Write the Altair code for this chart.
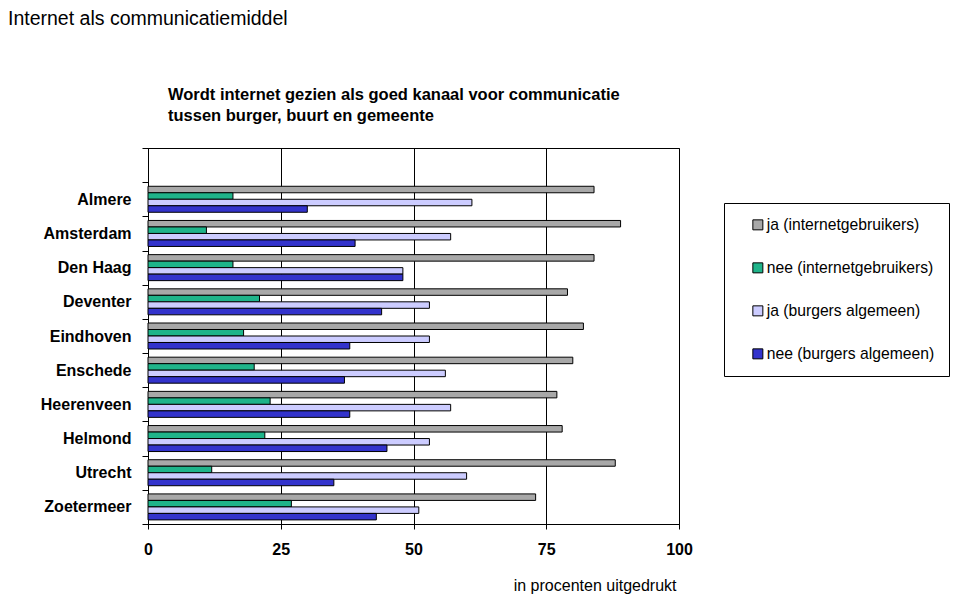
import altair as alt
import pandas as pd

cities = ["Almere", "Amsterdam", "Den Haag", "Deventer", "Eindhoven",
          "Enschede", "Heerenveen", "Helmond", "Utrecht", "Zoetermeer"]
series = ["ja (internetgebruikers)", "nee (internetgebruikers)",
          "ja (burgers algemeen)", "nee (burgers algemeen)"]
ja_internet = [84, 89, 84, 79, 82, 80, 77, 78, 88, 73]
nee_internet = [16, 11, 16, 21, 18, 20, 23, 22, 12, 27]
ja_burgers = [61, 57, 48, 53, 53, 56, 57, 53, 60, 51]
nee_burgers = [30, 39, 48, 44, 38, 37, 38, 45, 35, 43]
colors = ["#A8A8A8", "#1FB48A", "#CCCCFF", "#3333CC"]
x_ticks = [0, 25, 50, 75, 100]

main_title = "Internet als communicatiemiddel"
subtitle = ["Wordt internet gezien als goed kanaal voor communicatie",
            "tussen burger, buurt en gemeente"]
x_title = "in procenten uitgedrukt"

rows = []
for s, vals in zip(series, [ja_internet, nee_internet, ja_burgers, nee_burgers]):
    for c, v in zip(cities, vals):
        rows.append({"stad": c, "reeks": s, "waarde": v})
df = pd.DataFrame(rows)

FONT = "Liberation Sans"

bars = alt.Chart(df).mark_bar(stroke="black", strokeWidth=1).encode(
    x=alt.X("waarde:Q",
            scale=alt.Scale(domain=[0, 100], nice=False),
            axis=alt.Axis(values=x_ticks, title=x_title, grid=True,
                          gridColor="black", gridOpacity=1, gridWidth=1,
                          tickSize=5, labelPadding=12, labelFontSize=16,
                          labelFontWeight="bold", labelFont=FONT,
                          titleFont=FONT, titleFontSize=16, titleFontWeight="normal",
                          titleX=528, titleY=61, titleAlign="right",
                          titleBaseline="middle", labelFlush=False)),
    y=alt.Y("stad:N",
            scale=alt.Scale(domain=[" "] + cities, paddingInner=0, paddingOuter=0),
            axis=alt.Axis(title=None, tickBand="extent", tickSize=6,
                          labelPadding=11, labelFontSize=16, labelFontWeight="bold",
                          labelFont=FONT, grid=False)),
    yOffset=alt.YOffset("reeks:N",
                        scale=alt.Scale(domain=series, paddingInner=0, paddingOuter=0.63)),
    color=alt.Color("reeks:N",
                    scale=alt.Scale(domain=series, range=colors),
                    legend=alt.Legend(orient="none", legendX=576, legendY=55,
                                      title=None, strokeColor="black", fillColor="white",
                                      padding=14, symbolType="square", symbolSize=100,
                                      symbolStrokeColor="black", symbolStrokeWidth=1,
                                      symbolOpacity=1, labelFontSize=15.7, labelFont=FONT,
                                      labelColor="black", rowPadding=26, labelOffset=1,
                                      labelLimit=400, symbolOffset=12)),
)

title_df = pd.DataFrame({"t": [main_title]})
title = alt.Chart(title_df).mark_text(
    align="left", baseline="middle", fontSize=19.5, font=FONT, color="black"
).encode(text="t:N", x=alt.value(-140), y=alt.value(-129))

sub = alt.Chart(title_df).mark_text(
    align="left", baseline="middle", fontSize=16.5, font=FONT, fontWeight="bold",
    color="black", lineHeight=21
).encode(text=alt.value(subtitle), x=alt.value(20), y=alt.value(-53))

chart = alt.layer(bars, title, sub).properties(
    width=531, height=376,
    padding={"left": 140, "top": 140, "right": 273, "bottom": 71},
    autosize="none",
).configure_view(stroke="black", strokeWidth=1).configure_axis(
    domainColor="black", tickColor="black", labelColor="black", titleColor="black"
)

chart.save("out.html", embed_options={"renderer": "svg", "actions": False})
